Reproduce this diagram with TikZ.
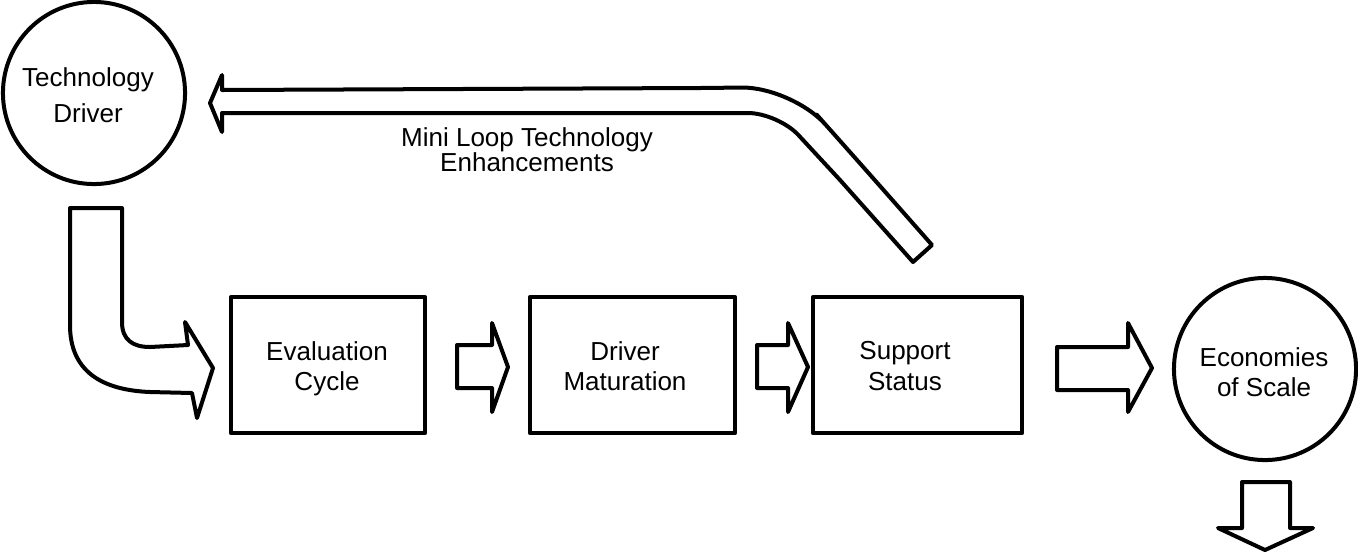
\documentclass[tikz,border=0pt]{standalone}
\usepackage{fontspec}
\setmainfont{Liberation Sans}
\begin{document}
\begin{tikzpicture}[x=0.01cm,y=-0.01cm,
  line width=0.04cm, line join=round,
  ring/.style={draw, circle, minimum size=1.82cm, inner sep=0pt},
  stage/.style={draw, rectangle, inner sep=0pt},
  lbl/.style={font=\fontsize{7.4}{8.6}\selectfont, align=center, inner sep=0pt},
  blockarrow/.style={draw, fill=white}]
\useasboundingbox (0,0) rectangle (1358,554);

% circles
\node[ring] (driver) at (94,93) {};
\node[lbl, font=\fontsize{7.4}{10.2}\selectfont] at (88,95) {Technology\\Driver};
\node[ring] (econ) at (1265,369) {};
\node[lbl] at (1264,372) {Economies\\of Scale};

% stage boxes
\node[stage, minimum width=1.94cm, minimum height=1.36cm] (eval) at (328,365) {};
\node[lbl] at (327,369) {Evaluation\\Cycle};
\node[stage, minimum width=2.05cm, minimum height=1.36cm] (mat) at (632.5,365) {};
\node[lbl] at (625,366) {Driver\\Maturation};
\node[stage, minimum width=2.09cm, minimum height=1.36cm] (sup) at (917.5,365) {};
\node[lbl] at (905,366) {Support\\Status};

% feedback loop arrow
\draw[blockarrow] (210,103) -- (222,75) -- (222,90) -- (700,88)
  [rounded corners=0.5cm] -- (792,87) -- (850,152)
  [sharp corners] -- (932,245) -- (913,262) -- (840,180)
  [rounded corners=0.3cm] -- (778,113) -- (700,113)
  [sharp corners] -- (222,113) -- (222,132) -- cycle;
\node[lbl, font=\fontsize{7.4}{7.1}\selectfont] (loop) at (527,150) {Mini Loop Technology\\Enhancements};

% curved arrow from driver to evaluation
\draw[blockarrow] (70,208) -- (122,208) -- (122,322)
  .. controls (122,340) and (133,347) .. (150,347) -- (188,345)
  -- (185,322) -- (213,368) -- (197,418) -- (192,393) -- (150,392)
  .. controls (100,390) and (70,370) .. (70,325) -- cycle;

% straight arrows
\draw[blockarrow] (457,345) -- (492,345) -- (492,323) -- (508,367) -- (492,412) -- (492,388) -- (457,388) -- cycle;
\draw[blockarrow] (757,345) -- (788,345) -- (788,323) -- (808,367) -- (788,412) -- (788,388) -- (757,388) -- cycle;
\draw[blockarrow] (1057,347) -- (1128,347) -- (1128,323) -- (1152,368) -- (1128,412) -- (1128,390) -- (1057,390) -- cycle;

% down arrow
\draw[blockarrow] (1242,482) -- (1290,482) -- (1290,528) -- (1313,528) -- (1265,550) -- (1218,528) -- (1242,528) -- cycle;
\end{tikzpicture}
\end{document}
